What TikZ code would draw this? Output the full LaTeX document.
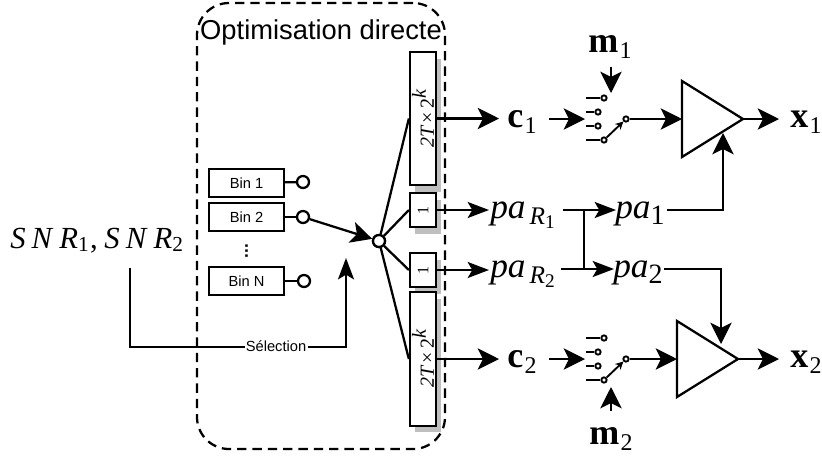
\documentclass[tikz,border=0pt]{standalone}
\usepackage{fontspec}
\setmainfont{Liberation Serif}
\setsansfont{Liberation Sans}
\usetikzlibrary{arrows.meta,shadows}
\newcommand{\fs}[1]{\fontsize{#1}{#1}\selectfont}
\newcommand{\lowtxt}[2]{\raisebox{#1}{#2}}
\newcommand{\padx}[2]{{\fs{26.5}\itshape pa}\kern#2pt\lowtxt{-5pt}{\fs{21}#1}}
\newcommand{\rsub}[1]{{\fs{19}\itshape R}\lowtxt{-3pt}{\fs{14.5}\upshape #1}}
\newcommand{\rot}{\fs{15}{\itshape 2T}\kern2.5pt×\kern2.5pt2\lowtxt{6pt}{\itshape k}}
\newcommand{\vecl}[3]{{\fs{#3}\bfseries #1}\kern1pt\lowtxt{-5pt}{\fs{18}#2}}
\newcommand{\snrtxt}[1]{{\fs{23}\itshape S\kern4.5pt N\kern5.5pt R}\lowtxt{-2.5pt}{\fs{16}#1}}
\tikzset{
  x=0.75pt,y=-0.75pt,
  conn/.style={line width=1.7pt},
  big/.style={conn,-{Stealth[length=16pt,width=16pt,inset=4pt]}},
  mid/.style={conn,-{Stealth[length=16pt,width=12pt,inset=3.5pt]}},
  binbox/.style={draw,line width=1.7pt,minimum width=56pt,minimum height=21pt,inner sep=0pt,font=\sffamily\fs{11}},
  port/.style={draw,circle,fill=white,line width=1.7pt,minimum size=9pt,inner sep=0pt},
  pin/.style={draw,circle,fill=white,line width=1.4pt,minimum size=4pt,inner sep=0pt},
  bar/.style={draw,fill=white,line width=1.7pt,minimum width=19.5pt,inner sep=0pt,
    general shadow={fill=black!25,shadow xshift=3.8pt,shadow yshift=-5pt,opacity=1}},
  lab/.style={inner sep=0pt,anchor=base west},
}
\begin{document}
\begin{tikzpicture}
\useasboundingbox (0,0) rectangle (822,458);
\node[draw,line width=1.7pt,rounded corners=24pt,minimum width=186pt,minimum height=334.5pt,inner sep=0pt,
  dash pattern=on 7pt off 4.5pt] (opt) at (321,226) {};
\node[inner sep=0pt,font=\sffamily\fs{20.5}] (title) at (321,32) {Optimisation directe};
% bins
\node[binbox] (b1) at (246.5,183) {Bin 1};
\node[binbox] (b2) at (246.5,217) {Bin 2};
\node[binbox] (bn) at (246.5,281) {Bin N};
\node[port] (c1) at (303,182) {};
\node[port] (c2) at (303,217) {};
\node[port] (cn) at (304,281) {};
\node[port] (sw) at (379,241) {};
\node[inner sep=0pt,font=\sffamily\bfseries\fs{13}] (dots) at (246.5,251) {\rotatebox{90}{...}};
\draw[conn] (b1) -- (c1);
\draw[conn] (b2) -- (c2);
\draw[conn] (bn) -- (cn);
% bars
\node[bar,minimum height=99.5pt] (bt) at (423,118.5) {\rotatebox{90}{\rot}};
\node[bar,minimum height=25.5pt] (s1) at (423,210) {\rotatebox{90}{\fs{12}1}};
\node[bar,minimum height=25.5pt] (s2) at (423,270) {\rotatebox{90}{\fs{12}1}};
\node[bar,minimum height=100pt] (bb) at (423,359) {\rotatebox{90}{\rot}};
\draw[conn] (sw) -- (bt.west);
\draw[conn] (sw) -- (s1.west);
\draw[conn] (sw) -- (s2.west);
\draw[conn] (sw) -- (bb.west);
\draw[big] (c2) -- (sw);
\node[port] at (sw) {};
% SNR
\node[inner sep=0pt,anchor=base west] (snr) at (10,248) {\snrtxt{1}\kern1pt{\fs{23},}\kern5pt\snrtxt{2}};
\coordinate (selend) at (346,258);
\coordinate (snrfoot) at (130,268);
\draw[mid] (snrfoot) |- (346,347) -- (selend);
\node[fill=white,inner xsep=1pt,inner ysep=1pt,font=\sffamily\fs{11}] (sel) at (276,346) {Sélection};
% outputs of bars
\node[lab] (cu) at (507,127) {\vecl{c}{1}{27}};
\node[lab] (cd) at (507,367) {\vecl{c}{2}{27}};
\node[lab] (pr1) at (490,218) {\padx{\rsub{1}}{3}};
\node[lab] (pr2) at (490,277) {\padx{\rsub{2}}{3}};
\draw[big] (bt.east) -- (499,118.5);
\draw[big] (bb.east) -- (499,359);
\draw[mid] (s1.east) -- (489,210);
\draw[mid] (s2.east) -- (489,270);
\node[lab] (p1) at (615,218) {\padx{1}{0}};
\node[lab] (p2) at (613,277) {\padx{2}{0}};
\coordinate (jt) at (584,210);
\coordinate (jb) at (584,269);
\draw[mid] (563,210) -- (616,210);
\draw[mid] (561,269) -- (614,269);
\draw[conn] (jt) -- (jb);
% upper switch
\foreach \n/\y/\x in {a/98/604,b/112/598,c/126/598,d/140/604}{
  \node[pin] (u\n) at (\x,\y) {};
  \draw[conn] (586,\y) -- (u\n);
  \node[pin] (l\n) at (\x,{\y+240}) {};
  \draw[conn] (586,{\y+240}) -- (l\n);
}
\node[pin] (uo) at (626,119) {};
\node[pin] (lo) at (626,359) {};
\draw[line width=1.4pt,-{Stealth[length=6pt,width=6pt]}] (ud) -- (uo);
\draw[line width=1.4pt,-{Stealth[length=6pt,width=6pt]}] (ld) -- (lo);
\coordinate (ui) at (549,119);
\coordinate (li) at (549,359);
\draw[big] (ui) -- (585,119);
\draw[big] (li) -- (585,359);
% triangles
\coordinate (ta) at (682,119);
\coordinate (tt) at (743,119);
\draw[conn,line join=miter] (682,81) -- (tt) -- (682,157) -- cycle;
\coordinate (la) at (677,359);
\coordinate (lt) at (738,359);
\draw[conn,line join=miter] (677,321) -- (lt) -- (677,397) -- cycle;
\draw[big] (uo) -- (ta);
\draw[big] (lo) -- (la);
\coordinate (xu) at (779,119);
\coordinate (xd) at (779,359);
\draw[big] (tt) -- (xu);
\draw[big] (lt) -- (xd);
\node[lab] (x1) at (790,127) {\vecl{x}{1}{27}};
\node[lab] (x2) at (790,367) {\vecl{x}{2}{27}};
% message inputs
\node[lab] (m1) at (588,52) {\vecl{m}{1}{27}};
\node[lab] (m2) at (589,444) {\vecl{m}{2}{27}};
\coordinate (mu) at (611,67);
\coordinate (md) at (611,411);
\draw[big] (mu) -- (611,93);
\draw[big] (md) -- (611,387);
% power feeds
\coordinate (pu) at (667,210);
\coordinate (pd) at (664,269);
\draw[big] (pu) -| (723,133);
\draw[big] (pd) -| (721,344);
\end{tikzpicture}
\end{document}
